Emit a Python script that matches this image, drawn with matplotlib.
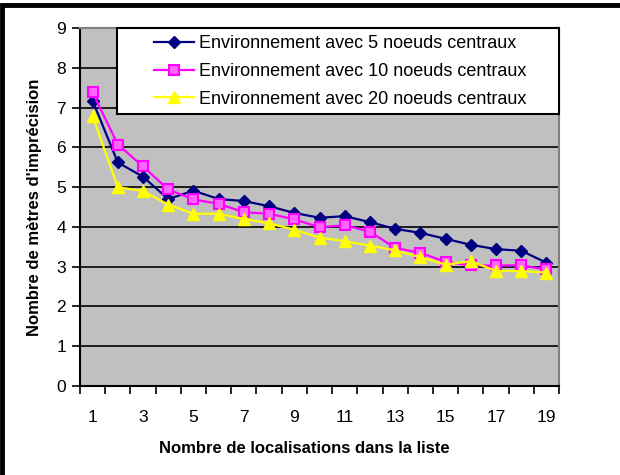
import matplotlib
matplotlib.use('Agg')
import matplotlib.pyplot as plt
from matplotlib.patches import Rectangle

# Données
localisations = list(range(1, 20))
env_5 = [7.17, 5.62, 5.26, 4.70, 4.91, 4.70, 4.65, 4.52, 4.35, 4.23,
         4.27, 4.12, 3.95, 3.85, 3.70, 3.55, 3.44, 3.40, 3.10]
env_10 = [7.38, 6.07, 5.52, 4.94, 4.69, 4.58, 4.37, 4.33, 4.19, 3.99,
          4.04, 3.88, 3.47, 3.35, 3.12, 3.03, 3.03, 3.03, 2.93]
env_20 = [6.79, 5.00, 4.90, 4.56, 4.33, 4.33, 4.20, 4.09, 3.93, 3.73,
          3.64, 3.53, 3.41, 3.24, 3.05, 3.14, 2.89, 2.89, 2.85]
labels = ['Environnement avec 5 noeuds centraux',
          'Environnement avec 10 noeuds centraux',
          'Environnement avec 20 noeuds centraux']
x_ticklabels = [str(i) for i in range(1, 20, 2)]

plt.rcParams['font.family'] = ['Liberation Sans', 'DejaVu Sans']

fig = plt.figure(figsize=(6.2, 4.75), dpi=100)
ax = fig.add_axes([80 / 620, 1 - 386 / 475, 479 / 620, 358 / 475])
ax.set_facecolor('#C0C0C0')

# cadre de la figure (haut et gauche visibles)
fig.patches.append(Rectangle((0.003, -0.2), 1.3, 1.19, transform=fig.transFigure,
                             fill=False, edgecolor='black', linewidth=3.5))

ax.plot(localisations, env_5, color='#000080', marker='D', markersize=6.5,
        linewidth=1.6, label=labels[0])
ax.plot(localisations, env_10, color='#FF00FF', marker='s', markersize=6.5,
        markerfacecolor='#FF66FF', markeredgecolor='#FF00FF', markeredgewidth=1.5,
        linewidth=1.6, label=labels[1])
ax.plot(localisations, env_20, color='#FFFF00', marker='^', markersize=8,
        linewidth=1.6, label=labels[2])

ax.set_xlim(0.5, 19.5)
ax.set_ylim(0, 9)
ax.set_yticks(range(0, 10))
for y in range(1, 9):
    ax.axhline(y, color='black', linewidth=1.2, zorder=0.5)

ax.set_xticks([i + 0.5 for i in range(0, 20)])
ax.set_xticklabels([])
ax.set_xticks(list(range(1, 20, 2)), minor=True)
ax.set_xticklabels(x_ticklabels, minor=True)
ax.tick_params(axis='x', which='major', direction='out', length=6, width=1.2)
ax.tick_params(axis='x', which='minor', length=0, pad=17, labelsize=12.5)
ax.tick_params(axis='y', direction='out', length=6, width=1.2, pad=4, labelsize=12.5)

for side in ['top', 'right']:
    ax.spines[side].set_color('#808080')
    ax.spines[side].set_linewidth(1.5)
for side in ['left', 'bottom']:
    ax.spines[side].set_color('black')
    ax.spines[side].set_linewidth(1.5)

ax.set_xlabel('Nombre de localisations dans la liste', fontsize=12, fontweight='bold',
              labelpad=13)
ax.xaxis.set_label_coords((304 - 80) / 479, -0.155)
ax.set_ylabel("Nombre de mètres d'imprécision", fontsize=12, fontweight='bold',
              labelpad=10)

# cadre de la légende, plus large que son contenu
ax.add_patch(Rectangle((37 / 479, 1 - 86 / 358), 1 - 37 / 479, 86 / 358,
                       transform=ax.transAxes, facecolor='white', edgecolor='black',
                       linewidth=1.5, zorder=4, clip_on=False))
leg = ax.legend(loc='upper left', bbox_to_anchor=(74 / 479, 1 - 7 / 358),
                borderaxespad=0, borderpad=0, fontsize=13, frameon=False,
                handlelength=2.2, labelspacing=0.6, handletextpad=0.3)
leg.set_zorder(5)

fig.savefig('out.png', dpi=100)
